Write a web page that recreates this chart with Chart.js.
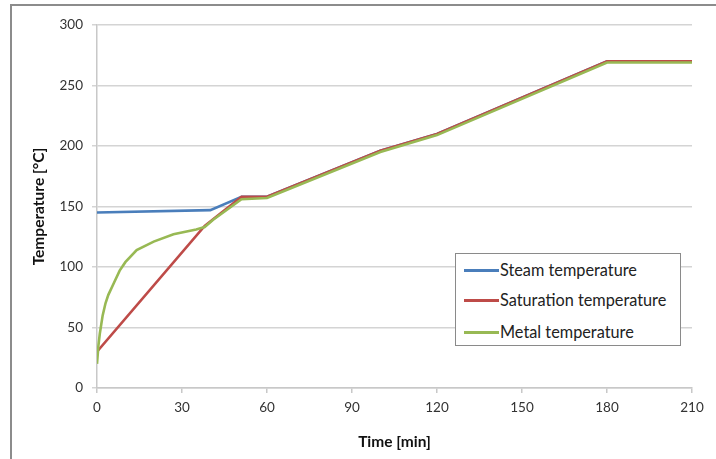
<!DOCTYPE html>
<html>
<head>
<meta charset="utf-8">
<script src="https://cdn.jsdelivr.net/npm/chart.js@4/dist/chart.umd.min.js"></script>
<style>
    html, body { margin: 0; padding: 0; background: #fff; }
    #wrap { position: relative; width: 716px; height: 459px; overflow: hidden; }
    #frame { position: absolute; left: 10px; top: 4px; right: -4px; bottom: -4px; border-left: 2px solid #8c8c8c; border-top: 2px solid #8c8c8c; pointer-events: none; }
    #legend { position: absolute; left: 455px; top: 253px; width: 224px; height: 91px; border: 1px solid #8a8a8a; background: #fff; font-family: Lato, sans-serif; font-size: 16.3px; color: #222; }
    .item { position: absolute; left: 8px; height: 18px; line-height: 18px; white-space: nowrap; }
    .swatch { display: inline-block; width: 35px; height: 3px; vertical-align: middle; margin-right: 1px; position: relative; top: -1px; }
</style>
</head>
<body>
<div id="wrap">
    <canvas id="grafico" width="716" height="459"></canvas>
    <div id="frame"></div>
    <div id="legend"></div>
</div>
<script>
// tiempos [min] y temperaturas [°C]
var tiempoVapor = [0, 40, 51, 60, 100, 120, 180, 210];
var tempVapor = [145, 147, 158, 158, 196, 210, 270, 270];

var tiempoSaturacion = [0, 38, 51, 60, 100, 120, 180, 210];
var tempSaturacion = [30, 134, 158, 158, 196, 210, 270, 270];

var tiempoMetal = [0, 0.5, 1, 2, 3, 4, 6, 8, 10, 14, 20, 27, 35, 38, 41, 51, 60, 100, 120, 180, 210];
var tempMetal = [20, 35, 45, 60, 70, 77, 87, 97, 104, 114, 121, 127, 131, 133, 139, 156, 157, 195, 209, 269, 269];

var etiquetas = ['Steam temperature', 'Saturation temperature', 'Metal temperature'];
var colores = ['#4a7ebb', '#be4b48', '#98b954'];

function puntos(xs, ys) {
    return xs.map((x, i) => ({ x: x, y: ys[i] }));
}

var series = [
    puntos(tiempoVapor, tempVapor),
    puntos(tiempoSaturacion, tempSaturacion),
    puntos(tiempoMetal, tempMetal)
];

// leyenda dentro del area del grafico
var leyenda = document.getElementById('legend');
var filasY = [7, 37, 69];
etiquetas.forEach((texto, i) => {
    var item = document.createElement('div');
    item.className = 'item';
    item.style.top = filasY[i] + 'px';
    item.innerHTML = '<span class="swatch" style="background:' + colores[i] + '"></span>' + texto;
    leyenda.appendChild(item);
});

var fuente = 'Lato, sans-serif';
var ctx = document.getElementById('grafico').getContext('2d');
new Chart(ctx, {
    type: 'line',
    data: {
        datasets: series.map((datos, i) => ({
            label: etiquetas[i],
            data: datos,
            borderColor: colores[i],
            borderWidth: 2.6,
            pointRadius: 0,
            tension: 0,
            fill: false,
            order: 3 - i
        }))
    },
    options: {
        responsive: false,
        animation: false,
        layout: { padding: { left: 30, top: 25, right: 24, bottom: 0 } },
        plugins: {
            legend: { display: false },
            tooltip: { enabled: false }
        },
        scales: {
            x: {
                type: 'linear',
                min: 0,
                max: 210,
                ticks: { stepSize: 30, color: '#333', font: { family: fuente, size: 13.5 }, padding: 7, maxRotation: 0 },
                grid: { drawOnChartArea: false, tickLength: 5, color: '#c8c8c8', lineWidth: 1.5 },
                border: { color: '#c8c8c8', width: 1.5 },
                title: { display: true, text: 'Time [min]', color: '#111', font: { family: fuente, size: 15.5, weight: 'bold' }, padding: { top: 0, bottom: 8 } },
                afterFit: function(escala) { escala.height = 71; }
            },
            y: {
                min: 0,
                max: 300,
                ticks: { stepSize: 50, color: '#333', font: { family: fuente, size: 13.5 }, padding: 9 },
                grid: { color: '#d4d4d4', lineWidth: 1.5, tickLength: 5 },
                border: { color: '#c8c8c8', width: 1.5 },
                title: { display: true, text: 'Temperature [°C]', color: '#111', font: { family: fuente, size: 15.5, weight: 'bold' }, padding: 0 },
                afterFit: function(escala) { escala.width = 67; }
            }
        }
    }
});
</script>
</body>
</html>
